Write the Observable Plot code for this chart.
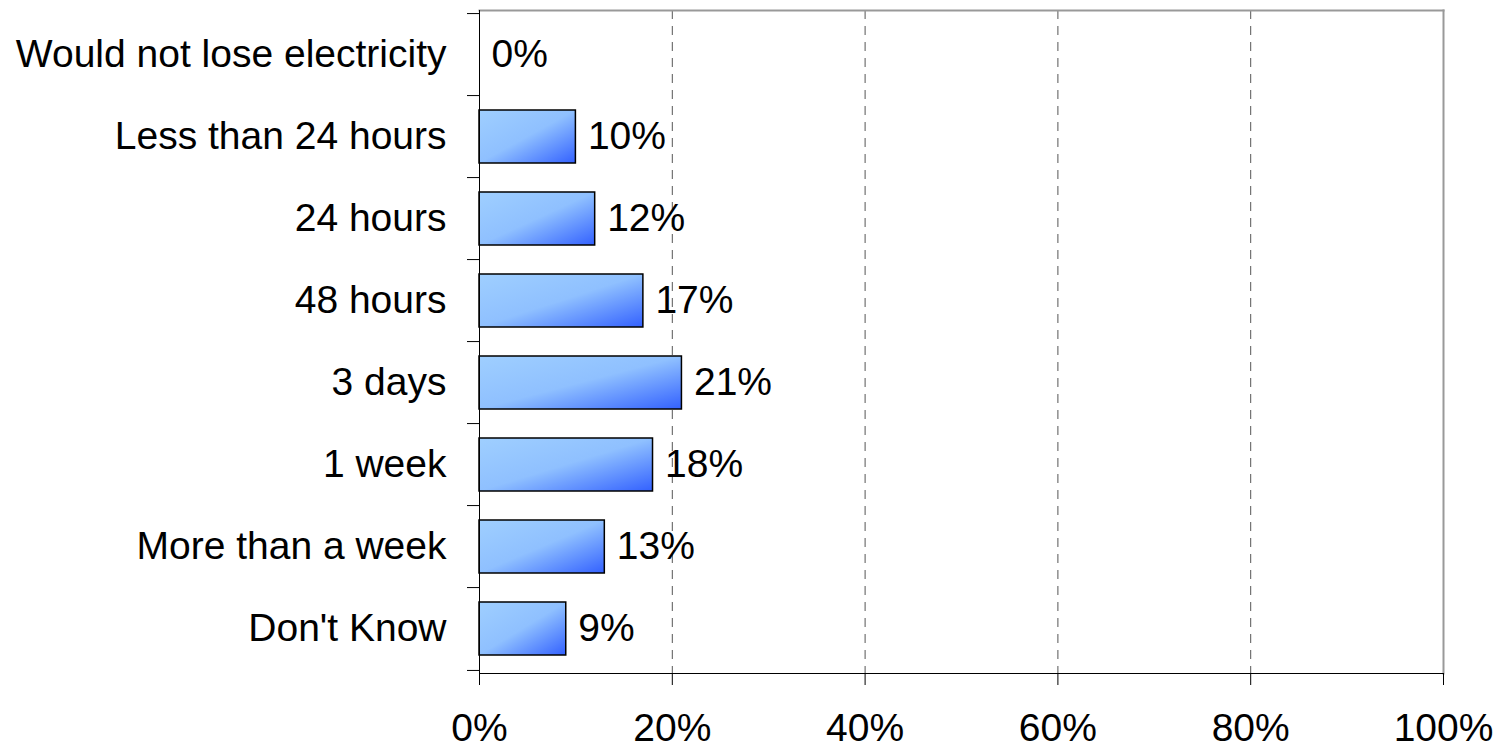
<!DOCTYPE html>
<html>
<head>
<meta charset="utf-8">
<script src="https://cdn.jsdelivr.net/npm/d3@7"></script>
<script src="https://cdn.jsdelivr.net/npm/@observablehq/plot@0.6"></script>
<style>
  html, body { margin: 0; padding: 0; background: #fff; }
  #chart svg { display: block; }
</style>
</head>
<body>
<div id="chart"></div>
<script>
const categories = ["Would not lose electricity", "Less than 24 hours", "24 hours", "48 hours", "3 days", "1 week", "More than a week", "Don't Know"];
const values = [0, 10, 12, 17, 21, 18, 13, 9];
const xTicks = [0, 20, 40, 60, 80, 100];
const gridTicks = [20, 40, 60, 80];

const data = categories.map((c, i) => ({category: c, value: values[i]}));

const W = 1500, H = 748;
const mL = 479, mR = 57, mT = 10, mB = 75;
const step = (H - mT - mB) / categories.length;
const font = "Liberation Sans, Arial, sans-serif";
const fs = 39;

const chart = Plot.plot({
  width: W,
  height: H,
  marginLeft: mL,
  marginRight: mR,
  marginTop: mT,
  marginBottom: mB,
  style: {fontFamily: font, fontSize: fs + "px", color: "#000", background: "#fff", overflow: "visible"},
  x: {domain: [0, 100], ticks: xTicks},
  y: {domain: categories, paddingInner: 0.35, paddingOuter: 0.175, label: null},
  marks: [
    Plot.ruleX(gridTicks, {stroke: "#555", strokeWidth: 1, strokeDasharray: "9,7"}),
    Plot.frame({anchor: "top", stroke: "#999", strokeWidth: 2}),
    Plot.frame({anchor: "right", stroke: "#999", strokeWidth: 2}),
    Plot.barX(data, {y: "category", x: "value", fill: "url(#barGrad)", stroke: "#000", strokeWidth: 1.5}),
    Plot.text(data, {y: "category", x: "value", text: d => d.value + "%", textAnchor: "start", dx: 12, fontSize: fs, fill: "#000"}),
    Plot.frame({anchor: "left", stroke: "#000", strokeWidth: 1}),
    Plot.frame({anchor: "bottom", stroke: "#000", strokeWidth: 1}),
    Plot.axisY({tickSize: 12, text: null, dy: -step / 2, stroke: "#000", label: null}),
    Plot.axisY([categories[categories.length - 1]], {tickSize: 12, text: null, dy: step / 2, stroke: "#000", label: null}),
    Plot.axisY({tickSize: 0, tickPadding: 33, fontSize: fs, fill: "#000", label: null}),
    Plot.axisX({ticks: xTicks, tickSize: 12, tickPadding: 28, tickFormat: d => d + "%", fontSize: fs, fill: "#000", stroke: "#000", label: null})
  ]
});

const svg = d3.select(chart);
const defs = svg.insert("defs", ":first-child");
const g = defs.append("linearGradient")
  .attr("id", "barGrad")
  .attr("x1", 0).attr("y1", 0).attr("x2", 1).attr("y2", 1);
g.append("stop").attr("offset", "0%").attr("stop-color", "#9fcfff");
g.append("stop").attr("offset", "50%").attr("stop-color", "#8fc0ff");
g.append("stop").attr("offset", "100%").attr("stop-color", "#3361ff");

document.getElementById("chart").appendChild(chart);
</script>
</body>
</html>
